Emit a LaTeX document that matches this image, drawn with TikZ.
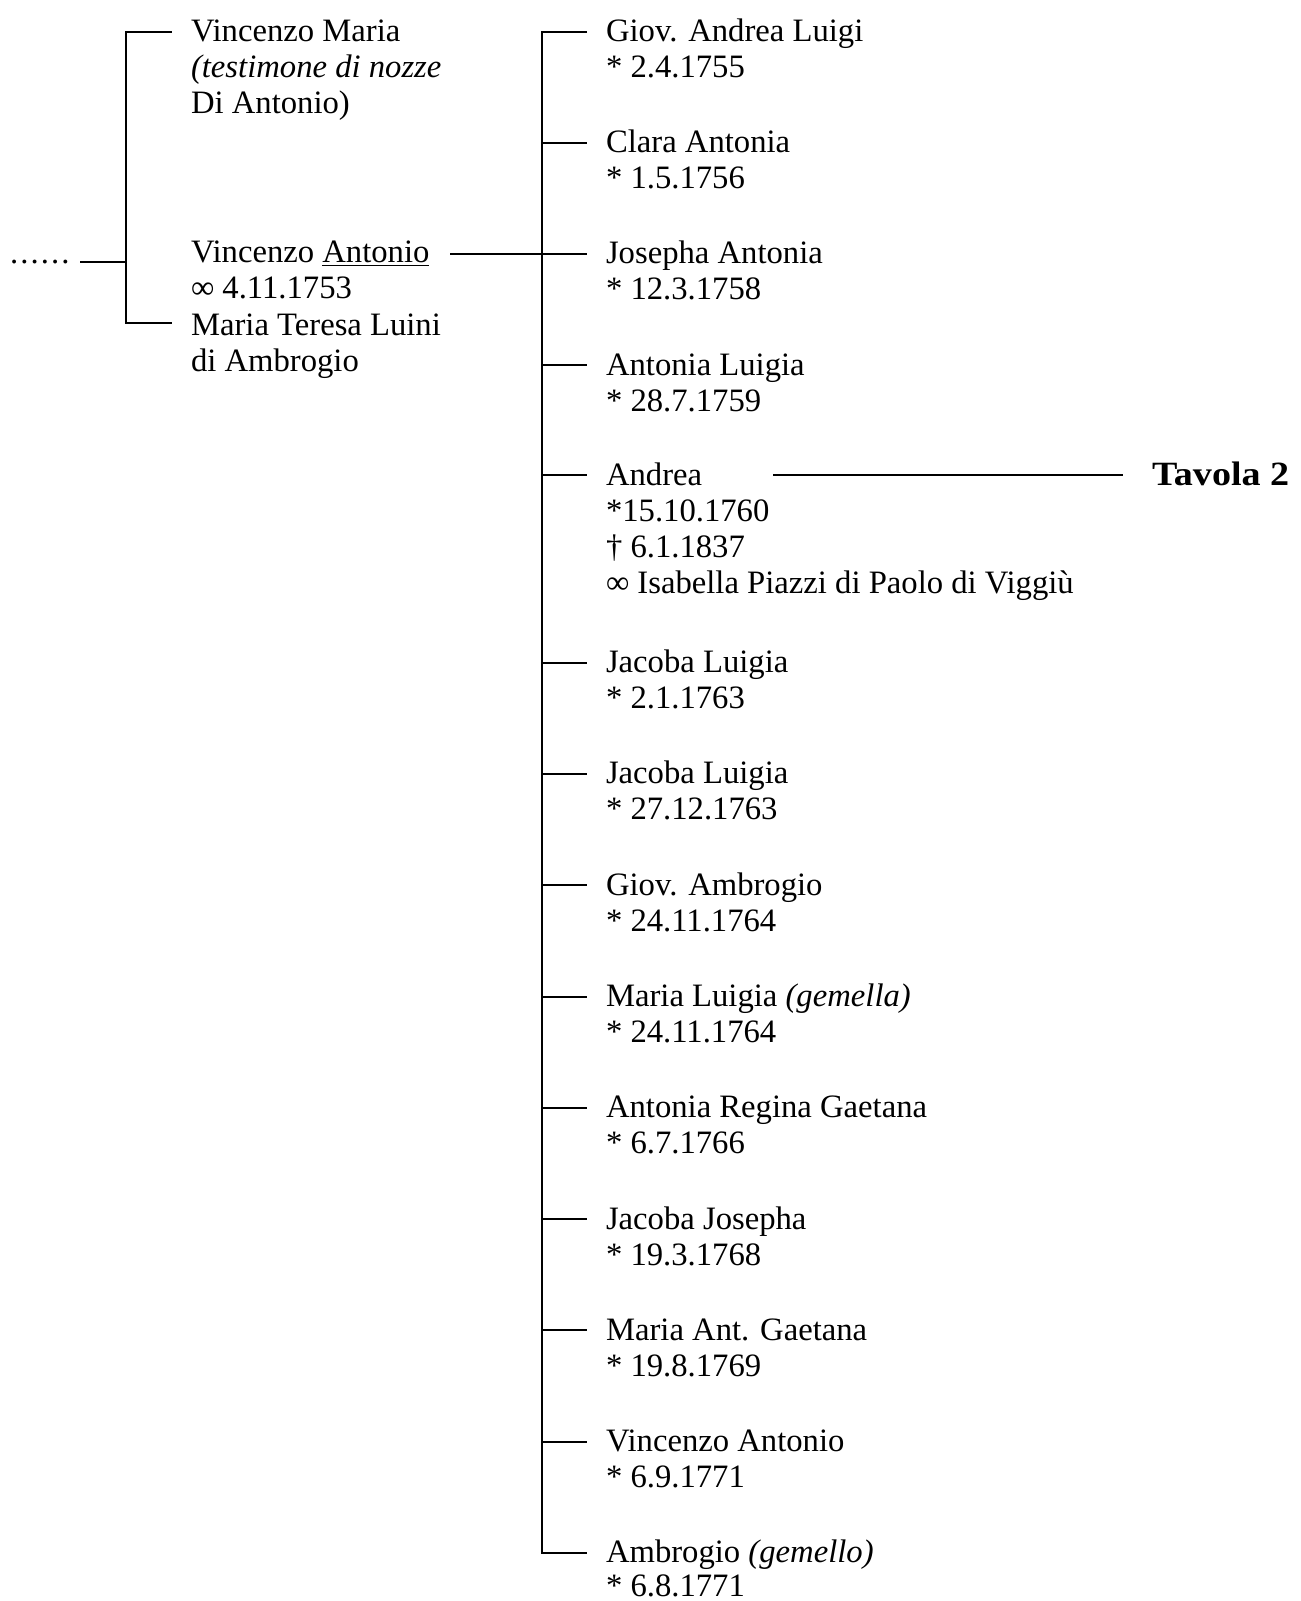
\documentclass[tikz,border=0pt]{standalone}
\usepackage{fontspec}
\usepackage{graphicx}
\setmainfont{Liberation Serif}
\newcommand{\kidrow}[4]{%
  \coordinate (t#1) at (542,#2);
  \coordinate (s#1) at (587,#2);
  \node[txt] (n#1) at (606,#2+10) {#3};
  \node[txt] (d#1) at (606,#2+46) {#4};
}
\begin{document}
\begin{tikzpicture}[x=0.75pt,y=-0.75pt,
  txt/.style={anchor=base west,inner sep=0pt,outer sep=0pt,font=\fontsize{24.5}{28}\selectfont},
  ln/.style={line width=1.5pt,line join=miter}]
\useasboundingbox (0,0) rectangle (1301,1601);
% left column
\node[txt] (vm1) at (191,41.7) {Vincenzo Maria};
\node[txt] (vm2) at (191,77.7) {\textit{(testimone di nozze}};
\node[txt] (vm3) at (191,113.7) {Di Antonio)};
\node[txt] (va1) at (191,263) {Vincenzo \underline{Antonio}};
\node[txt] (va2) at (191,299) {∞ 4.11.1753};
\node[txt] (mt1) at (191,335) {Maria Teresa Luini};
\node[txt] (mt2) at (191,371) {di Ambrogio};
\node[txt] (dots) at (10,263.5) {.\kern1.6pt.\kern1.6pt.\kern1.6pt.\kern1.6pt.\kern1.6pt.};
\coordinate (a1) at (171.7,31.7);
\coordinate (a0) at (126,31.7);
\coordinate (am) at (126,261.7);
\coordinate (ad) at (80,261.7);
\coordinate (a2) at (126,323.3);
\coordinate (a3) at (171.7,323.3);
\draw[ln] (a1) -- (a0) -- (a2) -- (a3);
\draw[ln] (ad) -- (am);
% children
\kidrow{1}{31.7}{Giov. Andrea Luigi}{* 2.4.1755}
\kidrow{2}{142.7}{Clara Antonia}{* 1.5.1756}
\kidrow{3}{254}{Josepha Antonia}{* 12.3.1758}
\kidrow{4}{365}{Antonia Luigia}{* 28.7.1759}
\kidrow{5}{475}{Andrea}{*15.10.1760}
\node[txt] (d5b) at (606,557) {† 6.1.1837};
\node[txt] (d5c) at (606,593) {∞ Isabella Piazzi di Paolo di Viggiù};
\kidrow{6}{662.7}{Jacoba Luigia}{* 2.1.1763}
\kidrow{7}{773.9}{Jacoba Luigia}{* 27.12.1763}
\kidrow{8}{885.2}{Giov. Ambrogio}{* 24.11.1764}
\kidrow{9}{996.5}{Maria Luigia \textit{(gemella)}}{* 24.11.1764}
\kidrow{10}{1107.7}{Antonia Regina Gaetana}{* 6.7.1766}
\kidrow{11}{1219}{Jacoba Josepha}{* 19.3.1768}
\kidrow{12}{1330.2}{Maria Ant. Gaetana}{* 19.8.1769}
\kidrow{13}{1441.5}{Vincenzo Antonio}{* 6.9.1771}
\coordinate (t14) at (542,1552.7);
\coordinate (s14) at (587,1552.7);
\node[txt] (n14) at (606,1562.7) {Ambrogio \textit{(gemello)}};
\node[txt] (d14) at (606,1596) {* 6.8.1771};
\draw[ln] (s1) -- (t1) -- (t14) -- (s14);
\foreach \i in {2,...,13} {\draw[ln] (t\i) -- (s\i);}
% marriage link
\coordinate (vaend) at (450,254);
\draw[ln] (vaend) -- (t3);
% Tavola 2
\coordinate (tv0) at (773,475);
\coordinate (tv1) at (1123,475);
\node[txt,font=\fontsize{25.5}{28}\selectfont\bfseries] (tav) at (1152,485) {\scalebox{1.12}[1]{Tavola 2}};
\draw[ln] (tv0) -- (tv1);
\end{tikzpicture}
\end{document}
